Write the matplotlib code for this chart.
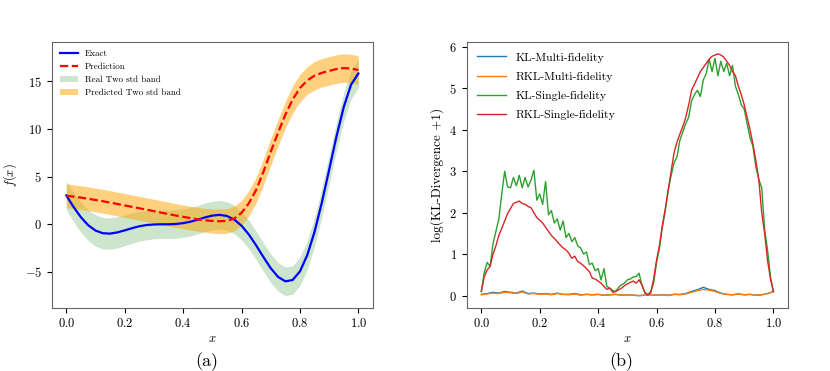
import numpy as np
import matplotlib.pyplot as plt

plt.rcParams['font.family'] = 'serif'
plt.rcParams['font.serif'] = ['cmr10', 'DejaVu Serif']
plt.rcParams['mathtext.fontset'] = 'cm'
plt.rcParams['axes.formatter.use_mathtext'] = True

# (a) values read at x = 0, 0.025, ..., 1.0
x_a = np.linspace(0, 1, 41)
exact = [3.03, 1.81, 0.74, -0.10, -0.66, -0.94, -0.98, -0.85, -0.64, -0.41,
         -0.21, -0.08, -0.02, 0.00, 0.00, 0.03, 0.12, 0.27, 0.48, 0.72,
         0.91, 0.99, 0.87, 0.50, -0.15, -1.07, -2.21, -3.44, -4.61, -5.52,
         -5.99, -5.85, -4.95, -3.25, -0.80, 2.27, 5.71, 9.19, 12.30, 14.65, 15.83]
real_band = [1.50, 1.55, 1.60, 1.60, 1.65, 1.65, 1.65, 1.65, 1.60, 1.60,
             1.55, 1.55, 1.50, 1.50, 1.50, 1.50, 1.50, 1.50, 1.50, 1.50,
             1.50, 1.50, 1.50, 1.50, 1.50, 1.50, 1.50, 1.50, 1.50, 1.50,
             1.50, 1.50, 1.50, 1.50, 1.50, 1.50, 1.50, 1.50, 1.50, 1.50, 1.50]
prediction = [3.00, 2.90, 2.80, 2.68, 2.55, 2.42, 2.28, 2.13, 1.98, 1.83,
              1.68, 1.53, 1.38, 1.22, 1.07, 0.92, 0.78, 0.65, 0.52, 0.42,
              0.35, 0.32, 0.35, 0.60, 1.20, 2.20, 3.60, 5.50, 7.60, 9.60,
              11.50, 13.10, 14.30, 15.10, 15.60, 15.90, 16.10, 16.30, 16.40, 16.35, 16.20]
pred_band = [1.25, 1.25, 1.25, 1.25, 1.25, 1.25, 1.25, 1.25, 1.25, 1.25,
             1.25, 1.25, 1.25, 1.25, 1.25, 1.25, 1.25, 1.25, 1.25, 1.25,
             1.28, 1.30, 1.30, 1.30, 1.30, 1.30, 1.35, 1.35, 1.40, 1.40,
             1.40, 1.45, 1.45, 1.45, 1.50, 1.50, 1.50, 1.50, 1.50, 1.50, 1.50]

# (b) values read at x = 0, 0.01, ..., 1.0
kl_single = [0.10, 0.55, 0.80, 0.70, 1.25, 1.55, 1.85, 2.45, 3.00, 2.62,
             2.60, 2.85, 2.65, 2.90, 2.60, 2.85, 2.62, 2.78, 3.02, 2.30,
             2.45, 2.20, 2.75, 1.95, 2.05, 1.75, 1.85, 1.58, 1.80, 1.40,
             1.50, 1.30, 1.40, 1.20, 1.15, 1.00, 1.05, 0.75, 0.78, 0.60,
             0.65, 0.38, 0.65, 0.22, 0.18, 0.12, 0.10, 0.20, 0.26, 0.30,
             0.38, 0.40, 0.45, 0.46, 0.54, 0.25, 0.06, 0.02, 0.10, 0.30,
             0.80, 1.15, 1.65, 2.05, 2.55, 2.90, 3.20, 3.35, 3.75, 3.95,
             4.15, 4.30, 4.70, 4.85, 4.95, 4.80, 5.20, 5.35, 5.70, 5.40,
             5.72, 5.30, 5.65, 5.40, 5.60, 5.30, 5.55, 5.05, 4.85, 4.60,
             4.50, 4.15, 3.80, 3.60, 3.10, 2.80, 2.60, 1.60, 1.10, 0.45, 0.10]
rkl_single = [0.10, 0.45, 0.62, 0.70, 1.00, 1.20, 1.45, 1.62, 1.80, 1.98,
              2.10, 2.22, 2.25, 2.28, 2.22, 2.20, 2.15, 2.12, 2.00, 1.88,
              1.82, 1.75, 1.65, 1.55, 1.45, 1.38, 1.30, 1.22, 1.15, 1.10,
              1.02, 0.90, 0.95, 0.82, 0.78, 0.72, 0.65, 0.58, 0.42, 0.40,
              0.35, 0.30, 0.22, 0.15, 0.18, 0.08, 0.10, 0.14, 0.18, 0.24,
              0.28, 0.32, 0.35, 0.30, 0.38, 0.25, 0.08, 0.02, 0.06, 0.40,
              0.85, 1.22, 1.70, 2.10, 2.55, 3.00, 3.45, 3.70, 3.90, 4.08,
              4.30, 4.60, 4.95, 5.10, 5.25, 5.40, 5.50, 5.60, 5.70, 5.77,
              5.80, 5.83, 5.80, 5.75, 5.65, 5.55, 5.40, 5.30, 5.05, 4.85,
              4.60, 4.30, 4.00, 3.65, 3.25, 2.80, 2.00, 1.50, 0.85, 0.40, 0.10]
# multi-fidelity values read at x = 0, 0.02, ..., 1.0
rkl_multi = [0.02, 0.04, 0.06, 0.05, 0.08, 0.07, 0.05, 0.09, 0.04, 0.05,
             0.03, 0.04, 0.02, 0.05, 0.03, 0.02, 0.04, 0.01, 0.03, 0.02,
             0.03, 0.01, 0.02, 0.03, 0.01, 0.02, 0.01, 0.00, 0.01, 0.02,
             0.01, 0.02, 0.00, 0.03, 0.02, 0.04, 0.08, 0.12, 0.15, 0.13,
             0.10, 0.05, 0.03, 0.02, 0.04, 0.02, 0.03, 0.01, 0.02, 0.05, 0.10]
kl_multi = [0.03, 0.05, 0.08, 0.06, 0.10, 0.08, 0.06, 0.11, 0.05, 0.06,
            0.04, 0.05, 0.03, 0.06, 0.03, 0.03, 0.05, 0.02, 0.03, 0.02,
            0.03, 0.01, 0.02, 0.03, 0.01, 0.02, 0.01, 0.00, 0.01, 0.02,
            0.01, 0.02, 0.01, 0.03, 0.03, 0.05, 0.10, 0.14, 0.20, 0.15,
            0.12, 0.06, 0.03, 0.02, 0.04, 0.02, 0.03, 0.01, 0.02, 0.05, 0.10]

fig = plt.figure(figsize=(8.3, 3.71), dpi=100)
ax1 = fig.add_axes([0.0623, 0.1706, 0.387, 0.717])
ax2 = fig.add_axes([0.5623, 0.1706, 0.3871, 0.717])

exact = np.array(exact)
prediction = np.array(prediction)
ax1.fill_between(x_a, exact - np.array(real_band), exact + np.array(real_band),
                 color='green', alpha=0.2, lw=0, label='Real Two std band')
ax1.fill_between(x_a, prediction - np.array(pred_band), prediction + np.array(pred_band),
                 color='orange', alpha=0.5, lw=0, label='Predicted Two std band')
ax1.plot(x_a, exact, color='blue', lw=1.6, label='Exact')
ax1.plot(x_a, prediction, 'r--', lw=1.6, label='Prediction')
ax1.set_xlabel('$x$', fontsize=9, labelpad=2)
ax1.set_ylabel('$f(x)$', fontsize=9)
h, l = ax1.get_legend_handles_labels()
ax1.legend([h[2], h[3], h[0], h[1]], [l[2], l[3], l[0], l[1]], loc='upper left',
           fontsize=6.5, frameon=False, handlelength=2.0)

x_b = np.linspace(0, 1, len(kl_single))
x_m = np.linspace(0, 1, len(kl_multi))
ax2.plot(x_m, kl_multi, color='tab:blue', lw=1, label='KL-Multi-fidelity')
ax2.plot(x_m, rkl_multi, color='tab:orange', lw=1, label='RKL-Multi-fidelity')
ax2.plot(x_b, kl_single, color='tab:green', lw=1, label='KL-Single-fidelity')
ax2.plot(x_b, rkl_single, color='tab:red', lw=1, label='RKL-Single-fidelity')
ax2.set_xlabel('$x$', fontsize=9, labelpad=2)
ax2.set_ylabel('log(KL-Divergence +1)', fontsize=9.5)
ax2.legend(loc='upper left', fontsize=8.5, frameon=False, labelspacing=0.75,
           handlelength=2.4)

for ax in (ax1, ax2):
    ax.tick_params(labelsize=9)
    for s in ax.spines.values():
        s.set_color('0.4')

fig.text(0.249, 0.025, '(a)', ha='center', va='center', fontsize=13)
fig.text(0.749, 0.025, '(b)', ha='center', va='center', fontsize=13)

fig.savefig('out.png', dpi=100)
